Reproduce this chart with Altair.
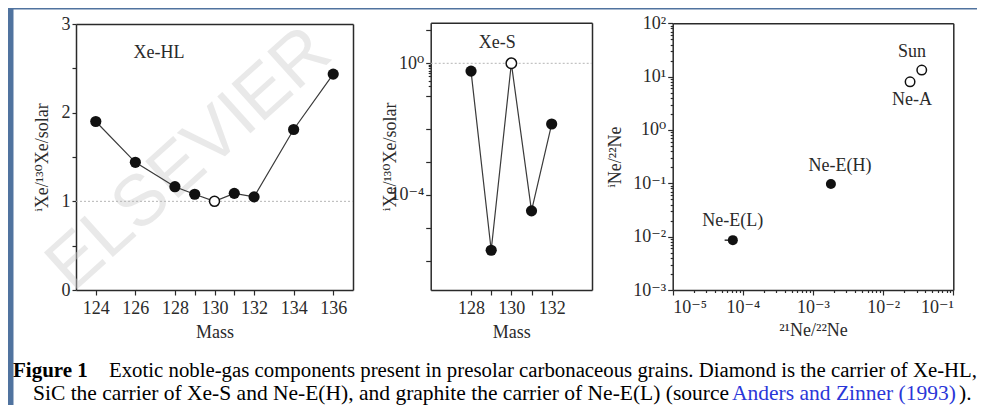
import altair as alt
import pandas as pd

# ---------------- data ----------------
# Panel 1: Xe-HL
hl_mass = [124, 126, 128, 129, 130, 131, 132, 134, 136]
hl_ratio = [1.90, 1.44, 1.165, 1.08, 1.00, 1.09, 1.05, 1.81, 2.435]
hl_open = [False, False, False, False, True, False, False, False, False]
hl_xdomain = [123, 137]
hl_ydomain = [0, 3]
hl_xticks = [124, 126, 128, 129, 130, 131, 132, 134, 136]
hl_yticks = [0, 0.5, 1, 1.5, 2, 2.5, 3]

# Panel 2: Xe-S
s_mass = [128, 129, 130, 131, 132]
s_ratio = [0.58, 2.1e-6, 1.0, 3.3e-5, 0.0143]
s_open = [False, False, True, False, False]
s_xdomain = [126, 134]
s_ydomain = [1.3e-7, 17]
s_xticks = [128, 129, 130, 131, 132]
s_yticks = [10, 1, 0.9, 0.8, 0.7, 0.6, 0.5, 0.4, 0.3, 0.2, 0.1, 0.01, 0.001, 1e-4, 1e-5, 1e-6]
s_ylabels = [0, -4]

# Panel 3: Ne
ne_name = ["Ne-E(L)", "Ne-E(H)", "Ne-A", "Sun"]
ne_x = [7.2e-5, 1.8e-3, 0.0242, 0.0355]
ne_y = [0.0086, 0.097, 8.0, 13.3]
ne_open = [False, False, True, True]
ne_lab_x = [7.2e-5, 2.43e-3, 0.0258, 0.0258]
ne_lab_y = [0.0197, 0.21, 3.6, 29.0]
ne_err_lo = [5.5e-5]
ne_xdomain = [1e-5, 1e-1]
ne_ydomain = [1e-3, 1e2]
ne_xdecades = [-5, -4, -3, -2, -1]
ne_ydecades = [-3, -2, -1, 0, 1, 2]

caption1_bold = "Figure 1"
caption1 = "Exotic noble-gas components present in presolar carbonaceous grains. Diamond is the carrier of Xe-HL,"
caption2a = "SiC the carrier of Xe-S and Ne-E(H), and graphite the carrier of Ne-E(L) (source "
caption2b = "Anders and Zinner (1993)"
caption2c = ")."

# ---------------- layout (view pixels) ----------------
W, H = 964, 396
P1X, P1Y = [63, 340], [281, 15]
P2X, P2Y = [417.7, 579], [281, 13.8]
P3X, P3Y = [659.7, 940.3], [281, 14.3]

SERIF = "Liberation Serif, DejaVu Serif, serif"
INK = "#2a2a2a"
FS = 18

SUP = str.maketrans("-0123456789", "⁻⁰¹²³⁴⁵⁶⁷⁸⁹")


def pow_expr(exps):
    lg = "(log(datum.value)/LN10)"
    expr = "''"
    for k in exps:
        expr = f"(abs({lg} - ({k})) < 0.01) ? '10{str(k).translate(SUP)}' : {expr}"
    return expr


def log_ticks(decades):
    vals = []
    for d in range(decades[0], decades[-1] + 1):
        for m in range(1, 10):
            if d == decades[-1] and m > 1:
                break
            vals.append(m * 10.0 ** d)
    return vals


MAJOR_SIZE = {"condition": {"test": "abs(log(datum.value)/LN10 - round(log(datum.value)/LN10)) < 0.01", "value": 5}, "value": 2.5}


def frame_axes(xr, yr):
    ax_top = alt.Axis(orient="top", offset=-yr[1], labels=False, ticks=False, title="", domainColor=INK)
    ax_right = alt.Axis(orient="right", offset=xr[1] - W, labels=False, ticks=False, title="", domainColor=INK)
    return ax_top, ax_right


# ---------------- panel 1 ----------------
df1 = pd.DataFrame({"mass": hl_mass, "ratio": hl_ratio, "open": hl_open})
sx1 = alt.Scale(domain=hl_xdomain, range=P1X, nice=False, zero=False)
sy1 = alt.Scale(domain=hl_ydomain, range=P1Y, nice=False, zero=False)
ax1_b = alt.Axis(orient="bottom", offset=P1Y[0] - H, values=hl_xticks,
                 labelExpr="datum.value % 2 == 0 ? format(datum.value, 'd') : ''",
                 tickSize=5, labelPadding=18, labelBaseline="alphabetic",
                 title="Mass", titleY=47, titleBaseline="alphabetic")
ax1_l = alt.Axis(orient="left", offset=-P1X[0], values=hl_yticks,
                 labelExpr="datum.value % 1 == 0 ? format(datum.value, 'd') : ''",
                 tickSize=4, labelPadding=2,
                 title="ⁱXe/¹³⁰Xe/solar", titleX=-34, titleBaseline="middle")
t1, r1 = frame_axes(P1X, P1Y)

ref1 = alt.Chart(pd.DataFrame({"k": [0]})).mark_rule(color="#b5b5b5", strokeDash=[2, 2], strokeWidth=1).encode(
    x=alt.X(datum=hl_xdomain[0], type="quantitative", scale=sx1, axis=None),
    x2=alt.X2(datum=hl_xdomain[1]),
    y=alt.Y(datum=1, type="quantitative", scale=sy1, axis=None),
)
line1 = alt.Chart(df1).mark_line(color="#3a3a3a", strokeWidth=1.2).encode(
    x=alt.X("mass:Q", scale=sx1, axis=ax1_b),
    y=alt.Y("ratio:Q", scale=sy1, axis=ax1_l),
)
fill1 = alt.Chart(df1).transform_filter("!datum.open").mark_point(
    shape="circle", filled=True, color="#111", size=125, opacity=1).encode(
    x=alt.X("mass:Q", scale=sx1, axis=t1),
    y=alt.Y("ratio:Q", scale=sy1, axis=r1),
)
open1 = alt.Chart(df1).transform_filter("datum.open").mark_point(
    shape="circle", filled=True, fill="white", stroke="#111", strokeWidth=1.5, size=100, opacity=1).encode(
    x=alt.X("mass:Q", scale=sx1, axis=None),
    y=alt.Y("ratio:Q", scale=sy1, axis=None),
)
lab1 = alt.Chart(pd.DataFrame({"x": [127.2], "y": [2.67], "t": ["Xe-HL"]})).mark_text(
    font=SERIF, fontSize=FS, color=INK, align="center", baseline="middle").encode(
    x=alt.X("x:Q", scale=sx1, axis=None), y=alt.Y("y:Q", scale=sy1, axis=None), text="t:N")
panel1 = alt.layer(ref1, line1, fill1, open1, lab1).resolve_axis(x="independent", y="independent")

# ---------------- panel 2 ----------------
df2 = pd.DataFrame({"mass": s_mass, "ratio": s_ratio, "open": s_open})
sx2 = alt.Scale(domain=s_xdomain, range=P2X, nice=False, zero=False)
sy2 = alt.Scale(type="log", domain=s_ydomain, range=P2Y, nice=False)
ax2_b = alt.Axis(orient="bottom", offset=P2Y[0] - H, values=s_xticks,
                 labelExpr="datum.value % 2 == 0 ? format(datum.value, 'd') : ''",
                 tickSize=5, labelPadding=18, labelBaseline="alphabetic",
                 title="Mass", titleY=47, titleBaseline="alphabetic")
ax2_l = alt.Axis(orient="left", offset=-P2X[0], values=s_yticks,
                 labelExpr=pow_expr(s_ylabels), tickSize=MAJOR_SIZE, labelPadding=2,
                 title="ⁱXe/¹³⁰Xe/solar", titleX=-40, titleBaseline="middle")
t2, r2 = frame_axes(P2X, P2Y)
ref2 = alt.Chart(pd.DataFrame({"k": [0]})).mark_rule(color="#b5b5b5", strokeDash=[2, 2], strokeWidth=1).encode(
    x=alt.X(datum=s_xdomain[0], type="quantitative", scale=sx2, axis=None),
    x2=alt.X2(datum=s_xdomain[1]),
    y=alt.Y(datum=1, type="quantitative", scale=sy2, axis=None),
)
line2 = alt.Chart(df2).mark_line(color="#3a3a3a", strokeWidth=1.2).encode(
    x=alt.X("mass:Q", scale=sx2, axis=ax2_b),
    y=alt.Y("ratio:Q", scale=sy2, axis=ax2_l),
)
fill2 = alt.Chart(df2).transform_filter("!datum.open").mark_point(
    shape="circle", filled=True, color="#111", size=125, opacity=1).encode(
    x=alt.X("mass:Q", scale=sx2, axis=t2),
    y=alt.Y("ratio:Q", scale=sy2, axis=r2),
)
open2 = alt.Chart(df2).transform_filter("datum.open").mark_point(
    shape="circle", filled=True, fill="white", stroke="#111", strokeWidth=1.5, size=110, opacity=1).encode(
    x=alt.X("mass:Q", scale=sx2, axis=None),
    y=alt.Y("ratio:Q", scale=sy2, axis=None),
)
lab2 = alt.Chart(pd.DataFrame({"x": [129.3], "y": [4.1], "t": ["Xe-S"]})).mark_text(
    font=SERIF, fontSize=FS, color=INK, align="center", baseline="middle").encode(
    x=alt.X("x:Q", scale=sx2, axis=None), y=alt.Y("y:Q", scale=sy2, axis=None), text="t:N")
panel2 = alt.layer(ref2, line2, fill2, open2, lab2).resolve_axis(x="independent", y="independent")

# ---------------- panel 3 ----------------
df3 = pd.DataFrame({"name": ne_name, "x": ne_x, "y": ne_y, "open": ne_open,
                    "lx": ne_lab_x, "ly": ne_lab_y})
sx3 = alt.Scale(type="log", domain=ne_xdomain, range=P3X, nice=False)
sy3 = alt.Scale(type="log", domain=ne_ydomain, range=P3Y, nice=False)
ax3_b = alt.Axis(orient="bottom", offset=P3Y[0] - H, values=log_ticks(ne_xdecades),
                 labelExpr=pow_expr(ne_xdecades), tickSize=MAJOR_SIZE, labelPadding=17,
                 labelBaseline="alphabetic",
                 title="²¹Ne/²²Ne", titleY=45, titleBaseline="alphabetic")
ax3_l = alt.Axis(orient="left", offset=-P3X[0], values=log_ticks(ne_ydecades),
                 labelExpr=pow_expr(ne_ydecades), tickSize=MAJOR_SIZE, labelPadding=2,
                 title="ⁱNe/²²Ne", titleX=-57, titleBaseline="middle")
t3, r3 = frame_axes(P3X, P3Y)
err3 = alt.Chart(df3.iloc[[0]].assign(lo=ne_err_lo)).mark_rule(color="#111", strokeWidth=1.3).encode(
    x=alt.X("lo:Q", scale=sx3, axis=None), x2="x:Q",
    y=alt.Y("y:Q", scale=sy3, axis=None),
)
fill3 = alt.Chart(df3).transform_filter("!datum.open").mark_point(
    shape="circle", filled=True, color="#111", size=100, opacity=1).encode(
    x=alt.X("x:Q", scale=sx3, axis=ax3_b),
    y=alt.Y("y:Q", scale=sy3, axis=ax3_l),
)
open3 = alt.Chart(df3).transform_filter("datum.open").mark_point(
    shape="circle", filled=True, fill="white", stroke="#111", strokeWidth=1.5, size=90, opacity=1).encode(
    x=alt.X("x:Q", scale=sx3, axis=t3),
    y=alt.Y("y:Q", scale=sy3, axis=r3),
)
lab3 = alt.Chart(df3).mark_text(font=SERIF, fontSize=FS, color=INK, align="center", baseline="middle").encode(
    x=alt.X("lx:Q", scale=sx3, axis=None), y=alt.Y("ly:Q", scale=sy3, axis=None), text="name:N")
panel3 = alt.layer(err3, fill3, open3, lab3).resolve_axis(x="independent", y="independent")

# ---------------- decorations ----------------
wm = alt.Chart(pd.DataFrame({"t": ["ELSEVIER"]})).mark_text(
    font="Liberation Sans", fontSize=72, angle=318, color="#cfcfcf", opacity=0.45,
    align="center", baseline="middle").encode(x=alt.value(176), y=alt.value(150), text="t:N")


def cap(txt, x, y, color="black", weight="normal", size=21.5):
    return alt.Chart(pd.DataFrame({"t": [txt]})).mark_text(
        font=SERIF, fontSize=size, color=color, fontWeight=weight, align="left",
        baseline="alphabetic").encode(x=alt.value(x), y=alt.value(y), text="t:N")


caps = [
    cap(caption1_bold, 0, 368, weight="bold", size=21),
    cap(caption1, 96, 368, size=20.8),
    cap(caption2a, 20, 391),
    cap(caption2b, 719, 391, color="#2a36d8"),
    cap(caption2c, 946, 391),
]

chart = alt.layer(wm, panel1, panel2, panel3, *caps).resolve_scale(
    x="independent", y="independent"
).properties(
    width=W, height=H,
    autosize=alt.AutoSizeParams(type="none"),
    padding={"left": 5, "top": 1, "right": 0, "bottom": 0},
    background="#50739f",
).configure_view(
    fill="white", stroke="transparent"
).configure_axis(
    labelFont=SERIF, labelFontSize=FS, labelColor=INK,
    titleFont=SERIF, titleFontSize=FS, titleFontWeight="normal", titleColor=INK,
    domainColor=INK, tickColor=INK, domainWidth=1.5, tickWidth=1.2, grid=False,
)

chart.save("out.html", embed_options={"renderer": "svg", "actions": False})
